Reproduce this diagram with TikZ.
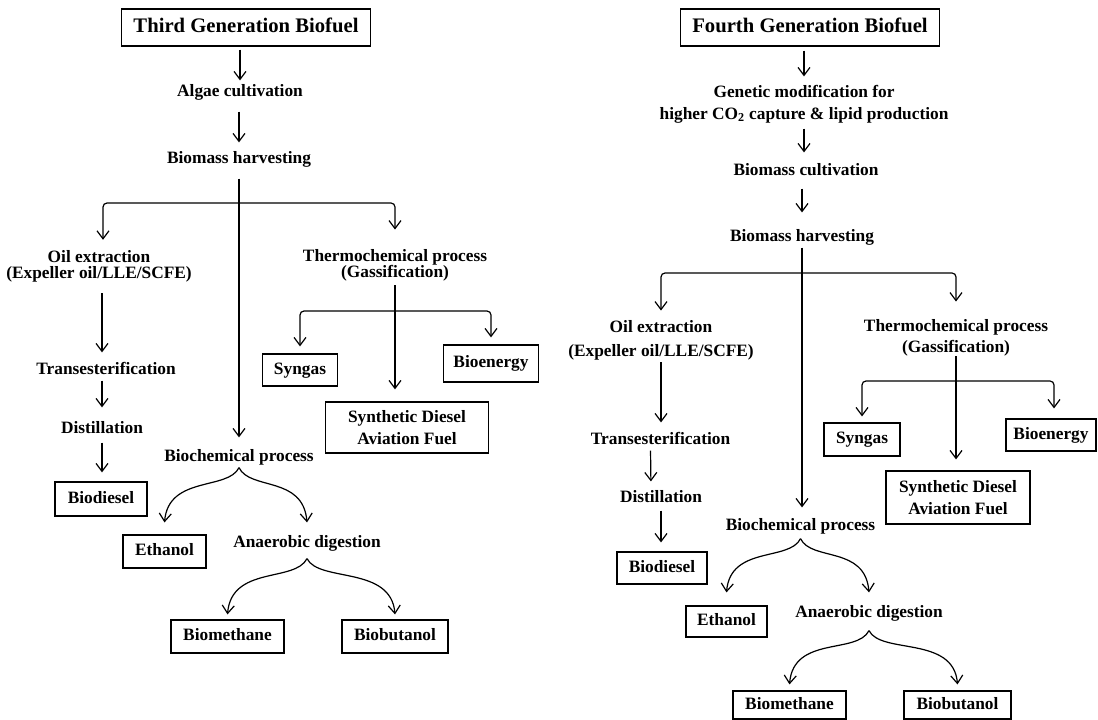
\documentclass[tikz,border=0pt]{standalone}
\usepackage{fontspec}
\setmainfont{Liberation Serif}
\usetikzlibrary{arrows.meta}
\begin{document}
\begin{tikzpicture}[x=0.75pt,y=-0.75pt,
  line width=0.9pt,
  arr/.style={-{Straight Barb[length=6pt,width=9pt]}},
  txt/.style={inner sep=0pt, font=\fontsize{13}{13}\selectfont\bfseries, text height=9pt, text depth=3pt},
  two/.style={inner sep=0pt, align=center, font=\fontsize{13}{#1}\selectfont\bfseries},
  sbx/.style={draw, inner sep=0pt, font=\fontsize{13}{13}\selectfont\bfseries, text height=9pt, text depth=3pt},
  bxtwo/.style={draw, inner sep=0pt, align=center, font=\fontsize{13}{#1}\selectfont\bfseries},
  ttl/.style={draw, inner sep=0pt, font=\fontsize{15.5}{16}\selectfont\bfseries, text height=10.5pt, text depth=3.5pt},
  rc/.style={rounded corners=3pt}
]
\useasboundingbox (0,0) rectangle (1098,720);

% ---------------- Third generation ----------------
\node[ttl, minimum width=186.75pt, minimum height=27.75pt] (T3) at (246,27.5) {Third Generation Biofuel};
\node[txt] (alg) at (240,93) {Algae cultivation};
\node[txt] (harv) at (239,160) {Biomass harvesting};
\node[two=12.4pt] (oil) at (99,266.5) {Oil extraction\\(Expeller oil/LLE/SCFE)};
\node[txt] (trans) at (106,370) {Transesterification};
\node[txt] (dist) at (102,429) {Distillation};
\node[sbx, minimum width=69pt, minimum height=25.5pt] (biod) at (101,499) {Biodiesel};
\node[two=12pt] (thermo) at (395,265) {Thermochemical process\\(Gassification)};
\node[sbx, minimum width=56pt, minimum height=24pt] (syn) at (300,370) {Syngas};
\node[sbx, minimum width=71pt, minimum height=27.75pt] (bioe) at (491,363.5) {Bioenergy};
\node[bxtwo=16.5pt, minimum width=122pt, minimum height=38.25pt] (sdaf) at (407,427.5) {Synthetic Diesel\\Aviation Fuel};
\node[txt] (bioc) at (239,457) {Biochemical process};
\node[sbx, minimum width=62.25pt, minimum height=24.75pt] (eth) at (164.5,551.5) {Ethanol};
\node[txt] (anae) at (307,543) {Anaerobic digestion};
\node[sbx, minimum width=84.75pt, minimum height=24.75pt] (bmeth) at (227.5,636.5) {Biomethane};
\node[sbx, minimum width=79.5pt, minimum height=24.75pt] (bbut) at (395,636.5) {Biobutanol};

\draw[arr, shorten <=2.25pt, shorten >=3pt] (T3.south -| alg.north) -- (alg.north);
\draw[arr, shorten <=7.5pt, shorten >=6.75pt] (alg.south -| harv.north) -- (harv.north);
\draw[arr, shorten <=7.5pt, shorten >=8.25pt] (harv.south) -- (harv.south |- bioc.north);
\coordinate (b3) at (239,203);
\draw[arr, rc, shorten >=7.5pt] (b3) -| ([xshift=3pt]oil.north);
\draw[arr, rc, shorten >=14.25pt] (b3) -| (thermo.north);
\draw[arr, shorten <=7.5pt, shorten >=6.75pt] (oil.south -| dist.north) -- (trans.north -| dist.north);
\draw[arr, shorten <=1.5pt, shorten >=9.75pt] (trans.south -| dist.north) -- (dist.north);
\draw[arr, shorten <=3.75pt, shorten >=6.75pt] (dist.south) -- (dist.south |- biod.north);
\draw[arr, shorten <=3pt, shorten >=9pt] (thermo.south) -- (thermo.south |- sdaf.north);
\coordinate (t3) at (395,311);
\draw[arr, rc, shorten >=5.25pt] (t3) -| (syn.north);
\draw[arr, rc, shorten >=5.25pt] (t3) -| (bioe.north);
\draw[arr] ([yshift=-1.5pt]bioc.south) .. controls +(-11,23) and +(4,-47) .. ([yshift=9pt]eth.north);
\draw[arr] ([yshift=-1.5pt]bioc.south) .. controls +(11,23) and +(-4,-47) .. ([yshift=9pt]anae.north);
\draw[arr] ([yshift=-5.25pt]anae.south) .. controls +(-12,24) and +(4,-49) .. ([yshift=3.75pt]bmeth.north);
\draw[arr] ([yshift=-5.25pt]anae.south) .. controls +(12,24) and +(-4,-49) .. ([yshift=3.75pt]bbut.north);

% ---------------- Fourth generation ----------------
\node[ttl, minimum width=193.9pt, minimum height=27.75pt] (F4) at (810,27.5) {Fourth Generation Biofuel};
\node[two=16.5pt] (gen) at (804,104) {Genetic modification for\\higher CO\textsubscript{2} capture \& lipid production};
\node[txt] (bcult) at (806,172) {Biomass cultivation};
\node[txt] (bharv) at (802,237) {Biomass harvesting};
\node[two=18pt] (oil4) at (661,340) {Oil extraction\\(Expeller oil/LLE/SCFE)};
\node[txt] (trans4) at (660.5,440) {Transesterification};
\node[txt] (dist4) at (661,498) {Distillation};
\node[sbx, minimum width=67.5pt, minimum height=24pt] (biod4) at (662,568) {Biodiesel};
\node[two=15.75pt] (thermo4) at (956,337.5) {Thermochemical process\\(Gassification)};
\node[sbx, minimum width=57pt, minimum height=24.75pt] (syn4) at (862,439.5) {Syngas};
\node[sbx, minimum width=67.5pt, minimum height=24pt] (bioe4) at (1051,435) {Bioenergy};
\node[bxtwo=16pt, minimum width=108pt, minimum height=39.75pt] (sdaf4) at (958,497.5) {Synthetic Diesel\\Aviation Fuel};
\node[txt] (bioc4) at (800.5,526) {Biochemical process};
\node[sbx, minimum width=60.75pt, minimum height=23.25pt] (eth4) at (726.5,621.5) {Ethanol};
\node[txt] (anae4) at (869,613) {Anaerobic digestion};
\node[sbx, minimum width=84.75pt, minimum height=21pt] (bmeth4) at (789.5,705) {Biomethane};
\node[sbx, minimum width=80.25pt, minimum height=21pt] (bbut4) at (957.5,705) {Biobutanol};

\draw[arr, shorten <=3pt, shorten >=6pt] (F4.south -| gen.north) -- (gen.north);
\draw[arr, shorten <=3.75pt, shorten >=8.25pt] (gen.south) -- (gen.south |- bcult.north);
\draw[arr, shorten <=6pt, shorten >=12pt] (bcult.south -| bharv.north) -- (bharv.north);
\draw[arr, shorten <=1.5pt, shorten >=7.5pt] (bharv.south) -- (bharv.south |- bioc4.north);
\coordinate (b4) at (802,273);
\draw[arr, rc, shorten >=6.75pt] (b4) -| (oil4.north);
\draw[arr, rc, shorten >=12.75pt] (b4) -| (thermo4.north);
\draw[arr, shorten <=1.5pt, shorten >=6.75pt] (oil4.south) -- (oil4.south |- trans4.north);
\draw[arr, shorten <=1.5pt, shorten >=6pt] ([xshift=-7.5pt]trans4.south) -- ([xshift=-7.5pt]dist4.north);
\draw[arr, shorten <=3pt, shorten >=6.75pt] (dist4.south) -- (dist4.south |- biod4.north);
\draw[arr, shorten >=8.25pt] (thermo4.south) -- (thermo4.south |- sdaf4.north);
\coordinate (t4) at (956,381);
\draw[arr, rc, shorten >=4.5pt] (t4) -| (syn4.north);
\draw[arr, rc, shorten >=7.5pt] (t4) -| ([xshift=2.25pt]bioe4.north);
\draw[arr] ([yshift=-3pt]bioc4.south) .. controls +(-11,23) and +(4,-47) .. ([yshift=9.75pt]eth4.north);
\draw[arr] ([yshift=-3pt]bioc4.south) .. controls +(11,23) and +(-4,-47) .. ([yshift=9pt]anae4.north);
\draw[arr] ([yshift=-6.75pt]anae4.south) .. controls +(-12,24) and +(4,-49) .. ([yshift=4.5pt]bmeth4.north);
\draw[arr] ([yshift=-6.75pt]anae4.south) .. controls +(12,24) and +(-4,-49) .. ([yshift=4.5pt]bbut4.north);
\end{tikzpicture}
\end{document}
